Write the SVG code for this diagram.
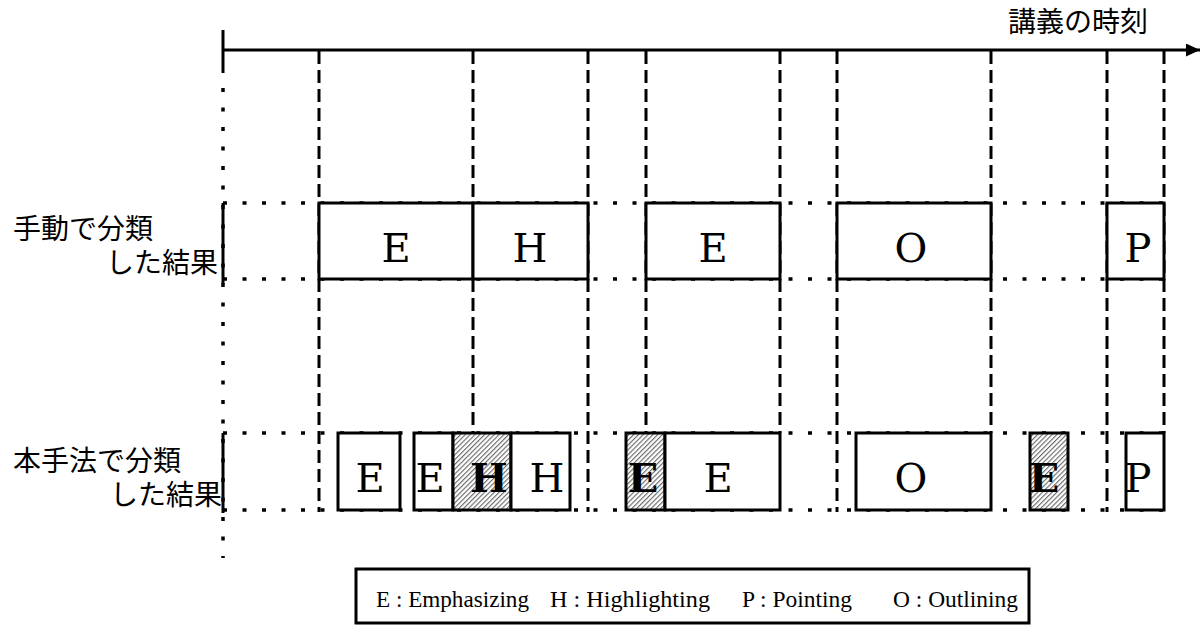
<svg xmlns="http://www.w3.org/2000/svg" width="1204" height="625" viewBox="0 0 1204 625">
<style>
.jp{font-family:"Noto Sans CJK JP","Noto Sans",sans-serif;font-size:28px;fill:#000}
.let{font-family:"DejaVu Serif","Liberation Serif",serif;font-size:40px;fill:#000;text-anchor:middle}
.bold{font-weight:bold}
.leg{font-family:"Liberation Serif",serif;font-size:23px;fill:#000}
.box{fill:#fff;stroke:#000;stroke-width:3}
.hatch{fill:url(#hatch);stroke:#000;stroke-width:3}
.dash{stroke:#000;stroke-width:3;stroke-dasharray:13 6;fill:none}
.dot{stroke:#000;stroke-width:3.5;stroke-dasharray:4 15.5;fill:none}
.solid{stroke:#000;stroke-width:3;fill:none}
</style>
<defs>
<pattern id="hatch" patternUnits="userSpaceOnUse" width="3.4" height="3.4" patternTransform="rotate(45)">
<rect width="3.4" height="3.4" fill="#fff"/>
<line x1="0.6" y1="0" x2="0.6" y2="3.4" stroke="#555" stroke-width="1"/>
</pattern>
<marker id="arrow" markerUnits="userSpaceOnUse" markerWidth="16" markerHeight="14" refX="14" refY="6.5" orient="auto">
<path d="M0,0 L14,6.5 L0,13 Z" fill="#000"/>
</marker>
</defs>
<rect width="1204" height="625" fill="#fff"/>
<g id="axis">
<line x1="223" y1="50" x2="1200" y2="50" class="solid" marker-end="url(#arrow)"/>
<line x1="223" y1="30" x2="223" y2="73" class="solid"/>
<text x="1008" y="32" class="jp">講義の時刻</text>
</g>
<g id="connectors">
<line x1="223" y1="88" x2="223" y2="558" class="dot"/>
<line x1="223" y1="203" x2="1164" y2="203" class="dot"/>
<line x1="223" y1="279" x2="1164" y2="279" class="dot"/>
<line x1="223" y1="433" x2="1164" y2="433" class="dot"/>
<line x1="223" y1="510" x2="1164" y2="510" class="dot"/>
<line x1="319" y1="51" x2="319" y2="512" class="dash"/>
<line x1="473" y1="51" x2="473" y2="433" class="dash"/>
<line x1="588" y1="51" x2="588" y2="512" class="dash"/>
<line x1="646" y1="51" x2="646" y2="433" class="dash"/>
<line x1="780" y1="51" x2="780" y2="433" class="dash"/>
<line x1="837" y1="51" x2="837" y2="512" class="dash"/>
<line x1="991" y1="51" x2="991" y2="433" class="dash"/>
<line x1="1107" y1="51" x2="1107" y2="512" class="dash"/>
<line x1="1164" y1="51" x2="1164" y2="433" class="dash"/>
<line x1="223" y1="203" x2="223" y2="284" class="solid"/>
<line x1="223" y1="433" x2="223" y2="513" class="solid"/>
</g>
<g id="label-manual">
<text x="13" y="239" class="jp">手動で分類</text>
<text x="218" y="273" class="jp" text-anchor="end">した結果</text>
</g>
<g id="label-proposed">
<text x="13" y="471" class="jp">本手法で分類</text>
<text x="222" y="505" class="jp" text-anchor="end">した結果</text>
</g>
<g id="manual-row">
<g id="m1"><rect x="319" y="203" width="154" height="76" class="box"/><text x="396" y="262" class="let">E</text></g>
<g id="m2"><rect x="473" y="203" width="115" height="76" class="box"/><text x="530" y="262" class="let">H</text></g>
<g id="m3"><rect x="646" y="203" width="134" height="76" class="box"/><text x="713" y="262" class="let">E</text></g>
<g id="m4"><rect x="837" y="203" width="154" height="76" class="box"/><text x="911" y="262" class="let">O</text></g>
<g id="m5"><rect x="1107" y="203" width="57" height="76" class="box"/><text x="1138" y="262" class="let">P</text></g>
</g>
<g id="proposed-row">
<g id="p1"><rect x="338" y="433" width="62" height="77" class="box"/><text x="370" y="492" class="let">E</text></g>
<g id="p2"><rect x="414" y="433" width="39" height="77" class="box"/><text x="430" y="492" class="let">E</text></g>
<g id="p3"><rect x="453" y="433" width="58" height="77" class="hatch"/><text x="489" y="492" class="let bold">H</text></g>
<g id="p4"><rect x="511" y="433" width="59" height="77" class="box"/><text x="547" y="492" class="let">H</text></g>
<g id="p5"><rect x="626" y="433" width="39" height="77" class="hatch"/><text x="643" y="492" class="let bold">E</text></g>
<g id="p6"><rect x="665" y="433" width="115" height="77" class="box"/><text x="718" y="492" class="let">E</text></g>
<g id="p7"><rect x="856" y="433" width="135" height="77" class="box"/><text x="911" y="492" class="let">O</text></g>
<g id="p8"><rect x="1030" y="433" width="38" height="77" class="hatch"/><text x="1044" y="492" class="let bold">E</text></g>
<g id="p9"><rect x="1126" y="433" width="38" height="77" class="box"/><text x="1138" y="492" class="let">P</text></g>
</g>
<g id="legend">
<rect x="356" y="569" width="673" height="54" class="box"/>
<text x="376" y="607" class="leg" textLength="153" lengthAdjust="spacingAndGlyphs">E : Emphasizing</text>
<text x="550" y="607" class="leg" textLength="160" lengthAdjust="spacingAndGlyphs">H : Highlighting</text>
<text x="742" y="607" class="leg" textLength="110" lengthAdjust="spacingAndGlyphs">P : Pointing</text>
<text x="893" y="607" class="leg" textLength="125" lengthAdjust="spacingAndGlyphs">O : Outlining</text>
</g>
</svg>
